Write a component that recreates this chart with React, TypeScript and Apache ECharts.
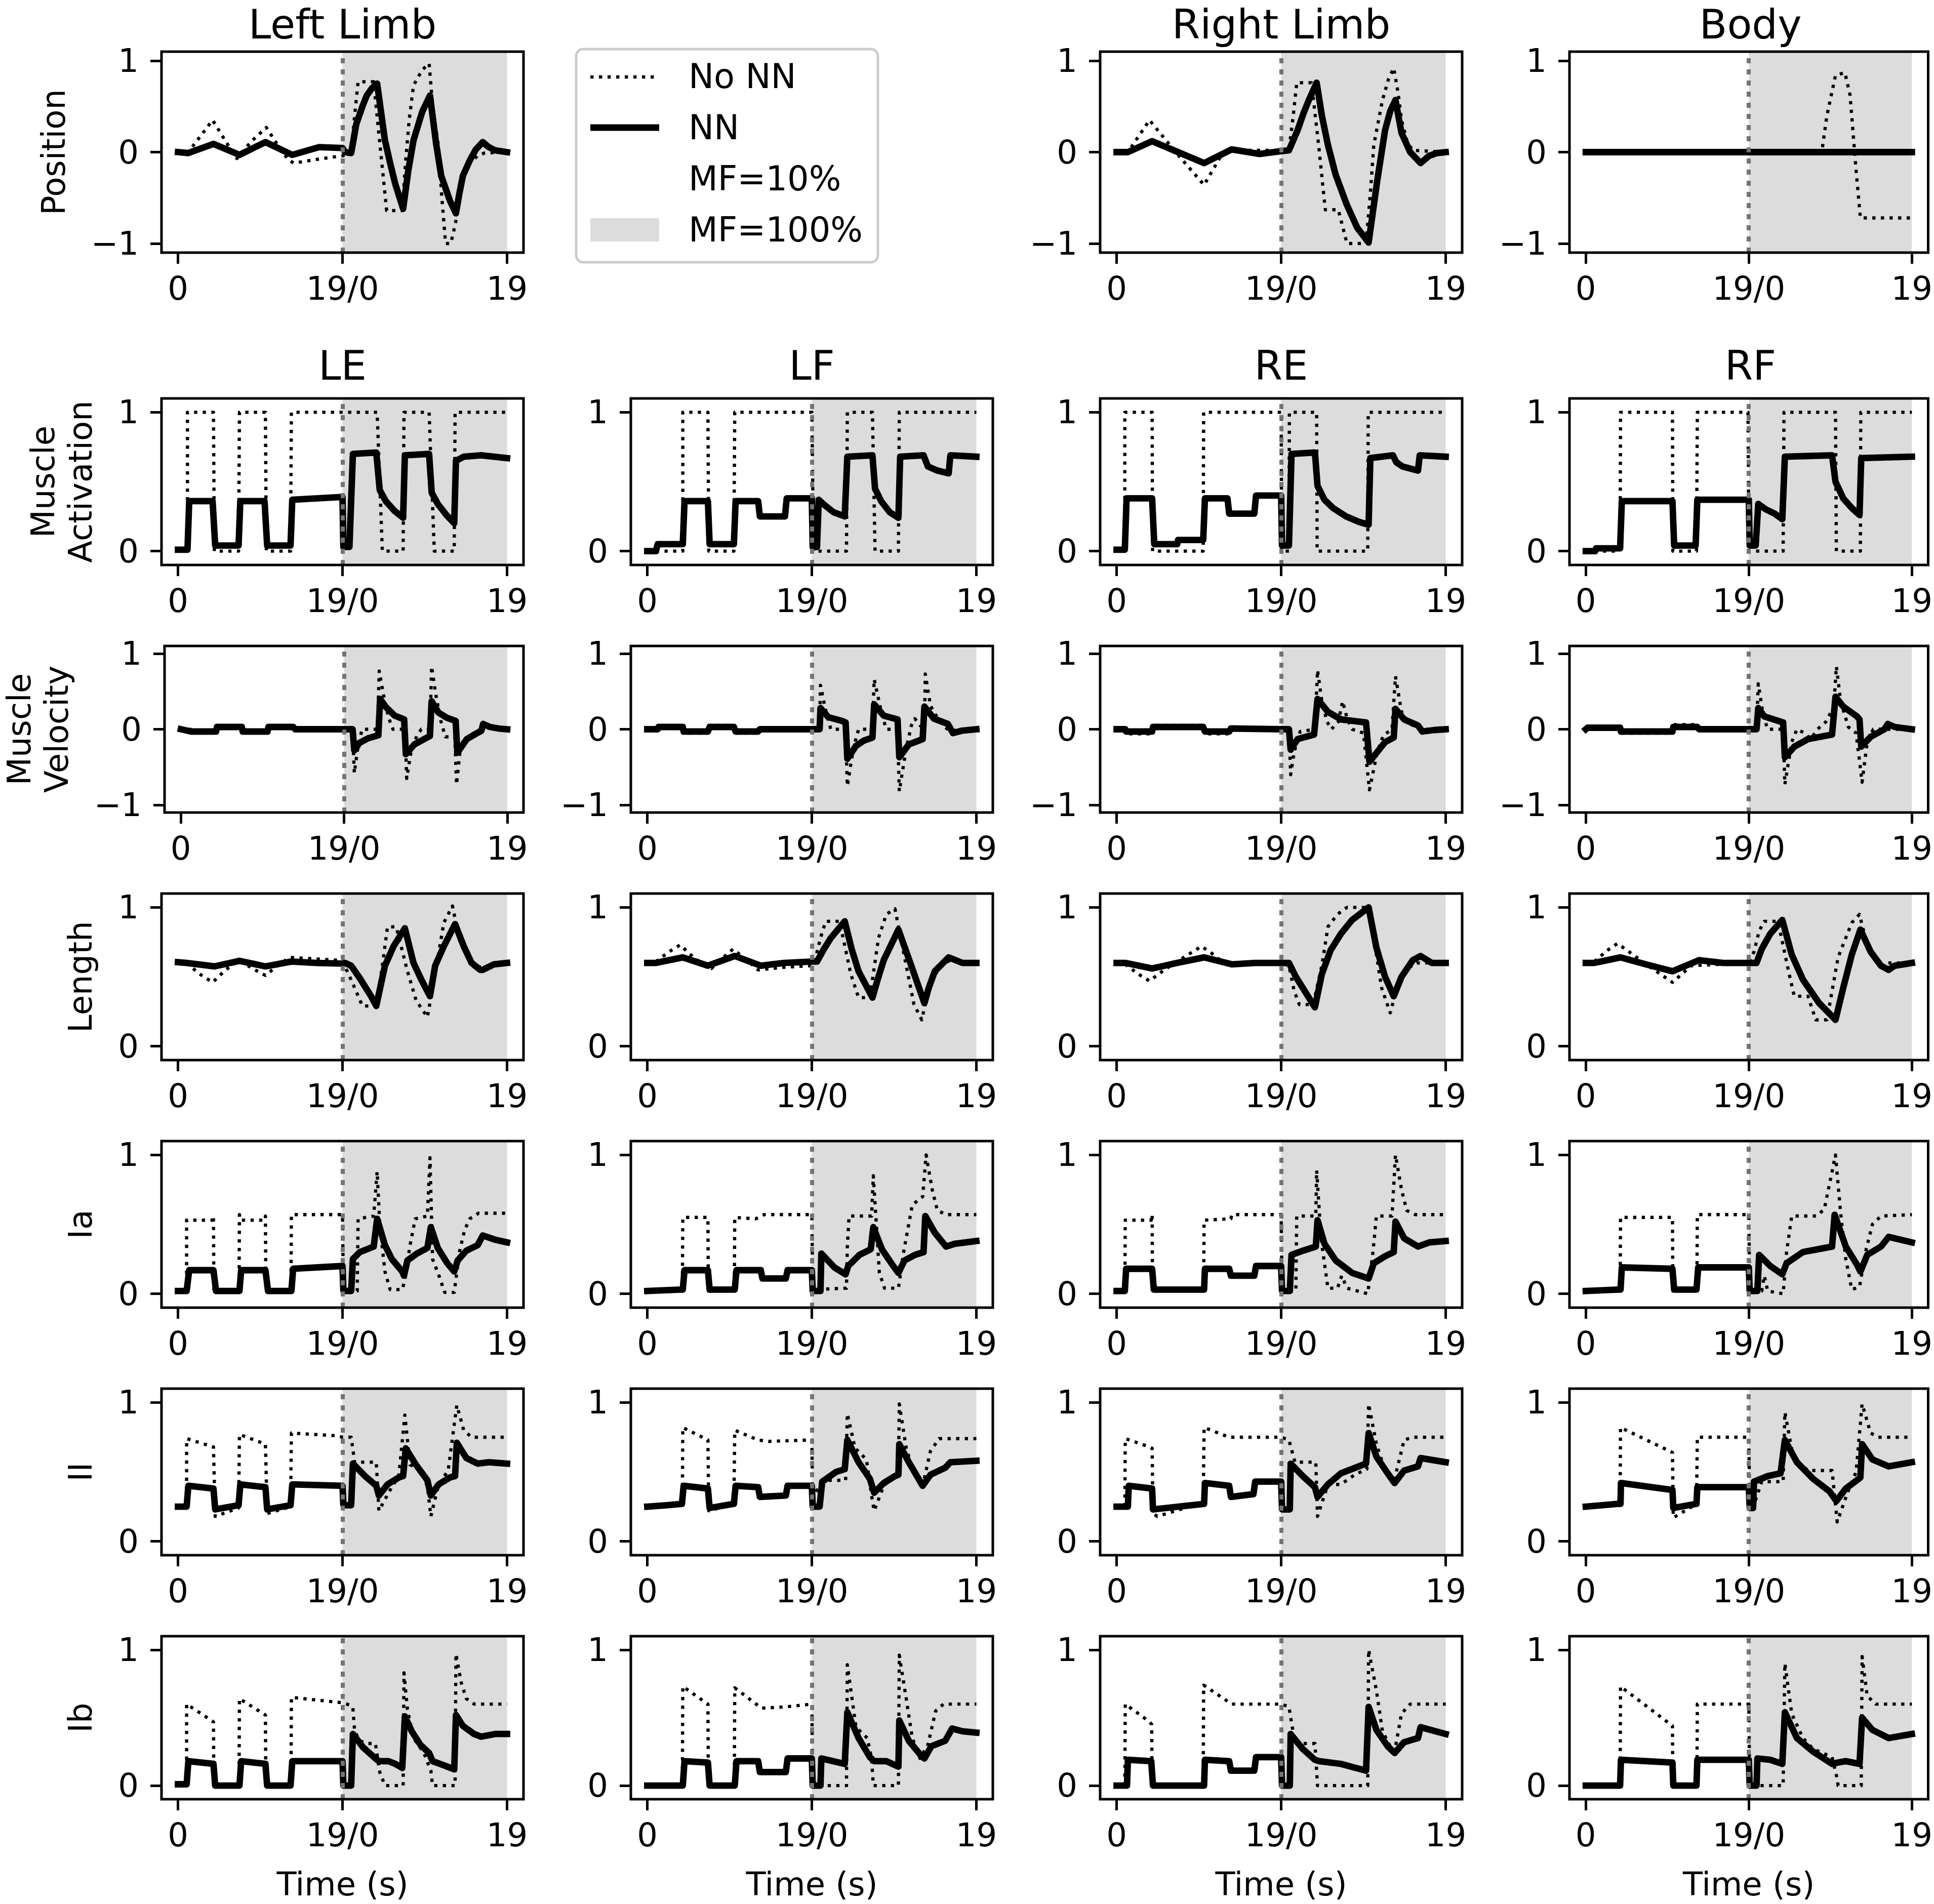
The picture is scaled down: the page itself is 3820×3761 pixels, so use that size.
import React, { useEffect, useRef } from "react";
import * as echarts from "echarts";

// ---------- texts ----------
const xTickValues = [0, 19, 38];
const xTickLabels = ["0", "19/0", "19"];
const rowLabels = ["Position", "Muscle\nActivation", "Muscle\nVelocity", "Length", "Ia", "II", "Ib"];
const topTitles = ["Left Limb", "", "Right Limb", "Body"];
const muscleTitles = ["LE", "LF", "RE", "RF"];
const legendLabels = ["No NN", "NN", "MF=10%", "MF=100%"];
const xAxisTitle = "Time (s)";
const shadeFrom = 19;
const shadeTo = 38;

// ---------- data: [time, value] ----------
// Row 1: Position
const posLeftNoNN = [[0,0],[1.2,0],[1.6,0.05],[4.0,0.35],[5.5,0.12],[6.8,-0.07],[8.5,0.12],[10.2,0.27],[11.5,0.08],[12.8,-0.09],[13.4,-0.12],[16,-0.08],[19,-0.04],[20,-0.01],[20.4,0.4],[20.8,0.77],[22.6,0.77],[23.2,0.2],[24.1,-0.64],[25.5,-0.64],[25.9,-0.64],[26.3,-0.09],[26.7,0.35],[27.2,0.73],[28.2,0.9],[29.0,0.97],[29.5,0.4],[30.0,0.13],[30.5,-0.53],[30.9,-1.0],[31.5,-1.0],[32.0,-0.8],[32.3,-0.64],[32.9,-0.3],[33.7,-0.12],[34.6,-0.04],[35.4,-0.01],[38,0]];
const posLeftNN = [[0,0],[1.2,-0.01],[4.1,0.09],[7.1,-0.03],[10.1,0.11],[13.2,-0.03],[16.3,0.055],[19,0.045],[19.3,0.0],[20,-0.01],[20.6,0.31],[21.3,0.5],[21.8,0.62],[22.4,0.7],[23.0,0.75],[23.9,0.13],[24.5,-0.12],[25.1,-0.35],[25.6,-0.5],[26.0,-0.62],[26.6,-0.2],[27.2,0.13],[28.2,0.44],[29.1,0.62],[29.8,0.1],[30.4,-0.26],[31.4,-0.53],[32.1,-0.67],[32.5,-0.45],[32.9,-0.26],[33.7,-0.09],[34.4,0.03],[35.2,0.11],[35.8,0.06],[36.6,0.02],[38,0]];
const posRightNoNN = [[0,0],[1.3,0],[3.8,0.35],[7,-0.02],[10.1,-0.36],[12.3,0],[13.3,0.02],[19,0.02],[19.9,0.02],[20.4,0.4],[20.8,0.76],[22.5,0.76],[23.3,0.1],[24.1,-0.63],[25.6,-0.63],[26.6,-1.0],[28.8,-1.0],[29.3,-0.45],[29.7,0.08],[30.7,0.57],[31.4,0.8],[32.0,0.92],[32.5,0.65],[32.9,0.35],[33.6,0.1],[34.2,0.02],[38,0]];
const posRightNN = [[0,0],[1.3,0],[4.1,0.12],[7.1,0.0],[10.1,-0.12],[13.3,0.03],[16.5,-0.02],[19,0.01],[19.9,0.02],[20.9,0.24],[21.6,0.43],[22.2,0.57],[23.1,0.76],[23.7,0.40],[24.4,0.08],[25.3,-0.25],[26.6,-0.58],[27.8,-0.83],[29.1,-0.99],[29.6,-0.65],[30.1,-0.31],[31.0,0.24],[31.6,0.45],[32.2,0.57],[32.9,0.21],[33.9,0.0],[35.1,-0.12],[36.1,-0.04],[37,-0.01],[38,0]];
const posBodyNoNN = [[0,0],[27.5,0],[28.1,0.4],[29.1,0.84],[30.2,0.87],[30.8,0.62],[31.5,-0.2],[32.0,-0.72],[38,-0.72]];
const posBodyNN = [[0,0],[38,0]];

// Row 2: Muscle activation
const actLENoNN = [[0,0],[1.1,0],[1.1,1],[4.1,1],[4.2,0],[7.0,0],[7.1,1],[10.1,1],[10.2,0],[13.0,0],[13.1,1],[23.0,1],[23.3,0.5],[23.6,0],[26.0,0],[26.1,1],[29.0,1],[29.3,0.5],[29.6,0],[31.9,0],[32.0,1],[38,1]];
const actLENN = [[0,0.01],[1.1,0.01],[1.3,0.36],[4.0,0.36],[4.3,0.04],[7.0,0.04],[7.2,0.36],[10.0,0.36],[10.3,0.04],[13.0,0.04],[13.2,0.37],[19.0,0.39],[19.1,0.03],[19.8,0.03],[20.2,0.70],[22.9,0.71],[23.3,0.44],[24.0,0.36],[25.0,0.29],[26.0,0.24],[26.2,0.69],[29.0,0.70],[29.3,0.42],[30.0,0.34],[31.0,0.26],[31.9,0.2],[32.1,0.65],[33,0.68],[35,0.69],[38,0.67]];
const actLFNoNN = [[0,0],[4.1,0],[4.1,1],[7.0,1],[7.1,0],[10.0,0],[10.1,1],[19.0,1],[19.2,0],[23.0,0],[23.1,1],[26.0,1],[26.3,0],[29.0,0],[29.1,1],[38,1]];
const actLFNN = [[0,0.0],[1.0,0.0],[1.2,0.05],[4.1,0.05],[4.3,0.36],[7.0,0.36],[7.2,0.05],[10.0,0.05],[10.2,0.36],[12.8,0.36],[13.0,0.25],[15.9,0.25],[16.1,0.38],[19.0,0.38],[19.1,0.03],[19.6,0.03],[19.8,0.37],[20.5,0.33],[21.5,0.28],[22.8,0.25],[23.1,0.68],[26.0,0.69],[26.3,0.45],[27.0,0.36],[28.0,0.28],[29.0,0.24],[29.2,0.68],[31.9,0.69],[32.4,0.61],[33.5,0.58],[34.8,0.56],[35.0,0.69],[38,0.68]];
const actRENoNN = [[0,0],[0.95,0],[0.95,1],[4.1,1],[4.15,0],[10.0,0],[10.05,1],[19,1],[19.05,0],[19.9,0],[19.95,1],[23.1,1],[23.15,0],[29.0,0],[29.05,1],[38,1]];
const actRENN = [[0,0.01],[0.95,0.01],[1.15,0.38],[4.1,0.38],[4.35,0.05],[7.0,0.05],[7.1,0.08],[10.0,0.08],[10.2,0.38],[12.8,0.38],[13.0,0.27],[15.9,0.27],[16.1,0.4],[19.0,0.4],[19.1,0.04],[19.9,0.04],[20.2,0.7],[22.9,0.71],[23.2,0.47],[24.0,0.37],[25.0,0.31],[26.5,0.25],[28.0,0.21],[29.1,0.19],[29.3,0.67],[31.9,0.69],[32.3,0.64],[33.0,0.61],[34.8,0.58],[35.0,0.69],[38,0.68]];
const actRFNoNN = [[0,0],[4.0,0],[4.05,1],[10.1,1],[10.15,0],[12.9,0],[13.0,1],[18.9,1],[19.0,0],[23.0,0],[23.1,1],[29.1,1],[29.2,0],[32.0,0],[32.05,1],[38,1]];
const actRFNN = [[0,0.0],[1.1,0.0],[1.2,0.02],[4.0,0.02],[4.2,0.36],[10.1,0.36],[10.3,0.04],[12.8,0.04],[13.0,0.37],[19.0,0.37],[19.1,0.04],[19.8,0.04],[20.1,0.34],[21,0.30],[22,0.27],[22.9,0.23],[23.2,0.68],[28.7,0.69],[29.1,0.5],[30,0.38],[31,0.31],[31.9,0.26],[32.1,0.67],[38,0.68]];

// Row 3: Muscle velocity
const velLENoNN = [[0,0],[1.1,0],[1.2,-0.05],[4.0,-0.04],[4.2,0.05],[7.0,0.04],[7.2,-0.05],[10.0,-0.04],[10.2,0.05],[13.0,0.04],[13.2,0.0],[19,0],[20.0,0],[20.2,-0.58],[20.6,-0.25],[21.1,0],[22.9,0],[23.1,0.77],[23.6,0.45],[24.2,0.15],[24.7,0],[26.1,0],[26.3,-0.65],[26.8,-0.3],[27.5,-0.08],[28.0,0],[29.0,0],[29.2,0.83],[29.7,0.45],[30.3,0.1],[30.8,-0.1],[31.9,-0.1],[32.1,-0.73],[32.5,-0.3],[33.2,-0.12],[34.5,-0.02],[35.2,0.02],[38,0]];
const velLENN = [[0,0],[1.2,-0.03],[4.1,-0.03],[4.2,0.03],[7.1,0.03],[7.2,-0.03],[10.1,-0.03],[10.2,0.03],[13.1,0.03],[13.3,0],[19,0],[20,0],[20.2,-0.28],[20.8,-0.18],[21.8,-0.12],[23.0,-0.08],[23.2,0.40],[23.9,0.29],[24.9,0.18],[26.0,0.13],[26.2,-0.33],[27.2,-0.2],[29.0,-0.09],[29.2,0.37],[30.0,0.22],[31.0,0.15],[32.0,0.11],[32.2,-0.31],[33.3,-0.13],[34.5,-0.05],[35.0,-0.02],[35.2,0.07],[36,0.03],[37,0.01],[38,0]];
const velLFNoNN = [[0,0],[1.2,0],[1.2,0.04],[4.1,0.04],[4.1,-0.05],[7.0,-0.05],[7.1,0.05],[10.0,0.05],[10.1,-0.05],[13.0,-0.05],[13.1,0],[19,0],[19.9,0],[20.0,0.58],[20.5,0.3],[20.9,0.12],[21.2,0],[22.9,0],[23.1,-0.75],[23.8,-0.25],[24.4,0],[26.0,0],[26.2,0.66],[27.0,0.24],[27.6,0],[28.9,0],[29.1,-0.82],[29.9,-0.25],[30.5,0.05],[30.9,0.14],[31.5,0.05],[32.0,0.0],[32.1,0.73],[32.7,0.31],[33.6,0.13],[34.9,-0.03],[36,0],[38,0]];
const velLFNN = [[0,0],[1.2,0],[1.3,0.03],[4.1,0.03],[4.2,-0.03],[7.0,-0.03],[7.2,0.03],[10.0,0.03],[10.2,-0.03],[12.8,-0.03],[13.0,0.0],[19,0],[19.9,0],[20.0,0.28],[20.9,0.16],[22.5,0.11],[22.9,0.09],[23.1,-0.39],[24.1,-0.22],[25.0,-0.15],[26.0,-0.11],[26.2,0.33],[27.3,0.18],[28.9,0.13],[29.1,-0.37],[30.2,-0.2],[31.8,-0.13],[32.0,0.30],[33.1,0.14],[34.7,0.07],[35.3,-0.05],[36.3,-0.02],[38,0]];
const velRENoNN = [[0,0],[1.0,0],[1.0,-0.06],[4.1,-0.06],[4.1,0.05],[10.0,0.05],[10.1,-0.06],[13.0,-0.06],[13.1,0],[19,0],[19.9,0],[20.1,-0.6],[20.5,-0.3],[21.2,-0.03],[22.9,0],[23.2,0.78],[23.7,0.37],[24.3,0.1],[24.8,0],[25.6,0.1],[26.1,0.37],[26.6,0.15],[27.2,0],[28.5,-0.05],[29.2,-0.8],[30.1,-0.3],[30.8,-0.08],[31.8,0],[32.2,0.7],[32.9,0.23],[33.9,0.07],[35,0],[38,0]];
const velRENN = [[0,0],[1.0,0],[1.1,-0.03],[4.1,-0.03],[4.2,0.03],[10.0,0.03],[10.2,-0.03],[13.0,-0.03],[13.2,0.01],[19,0],[19.9,0],[20.1,-0.27],[20.9,-0.13],[22.8,-0.07],[23.2,0.40],[24.4,0.23],[25.9,0.13],[28.8,0.09],[29.2,-0.43],[30.1,-0.3],[31.0,-0.17],[32.0,-0.11],[32.2,0.27],[33.2,0.13],[34.8,0.05],[35.3,-0.03],[36.7,-0.01],[38,0]];
const velRFNoNN = [[0,0],[0.2,0.04],[4.0,0.04],[4.1,-0.05],[10.1,-0.05],[10.2,0.06],[13.0,0.06],[13.1,0],[19,0],[19.9,0],[20.1,0.6],[20.7,0.17],[21.2,0],[23.0,0],[23.2,-0.73],[24.0,-0.17],[24.6,0],[25.5,-0.05],[26.2,-0.13],[27,0],[28.0,0.1],[28.9,0.3],[29.2,0.83],[29.7,0.37],[30.6,0.03],[31.5,-0.05],[32.2,-0.7],[32.8,-0.17],[33.5,0],[38,0]];
const velRFNN = [[0,0],[0.2,0.02],[4.0,0.02],[4.1,-0.03],[10.1,-0.03],[10.2,0.03],[13.0,0.03],[13.2,0],[19,0],[19.9,0],[20.1,0.28],[20.8,0.17],[23.0,0.09],[23.2,-0.37],[24.3,-0.23],[25.9,-0.13],[28.7,-0.07],[29.1,0.43],[30.0,0.3],[31.6,0.17],[31.9,0.13],[32.1,-0.23],[33.2,-0.1],[34.8,0.0],[35.2,0.07],[36,0.03],[38,0]];

// Row 4: Length
const lenLENoNN = [[0,0.6],[1.0,0.6],[2.5,0.52],[4.0,0.46],[5.5,0.55],[7.1,0.62],[8.6,0.56],[10.1,0.51],[11.5,0.58],[12.9,0.64],[18.4,0.62],[19,0.61],[19.7,0.52],[20.4,0.42],[21.3,0.29],[22.9,0.29],[23.6,0.58],[24.2,0.86],[25.2,0.86],[26.5,0.54],[27.5,0.33],[28.8,0.21],[29.7,0.52],[30.7,0.89],[31.7,1.01],[32.6,0.74],[33.9,0.6],[34.9,0.57],[38,0.6]];
const lenLENN = [[0,0.605],[1.0,0.6],[4.2,0.575],[7.1,0.615],[10.1,0.575],[13.1,0.61],[16,0.6],[19,0.595],[19.3,0.6],[20,0.58],[21,0.49],[22.3,0.36],[22.9,0.29],[23.9,0.58],[24.9,0.72],[26.2,0.85],[27.2,0.6],[28.1,0.48],[29.1,0.36],[29.7,0.58],[30.7,0.72],[32.0,0.88],[33,0.72],[33.9,0.6],[34.9,0.55],[35.2,0.55],[36.5,0.59],[38,0.6]];
const lenLFNoNN = [[0,0.6],[1,0.61],[2.5,0.68],[3.8,0.73],[5.5,0.63],[7.4,0.56],[8.8,0.64],[9.9,0.7],[11.5,0.62],[12.8,0.55],[16,0.57],[19,0.58],[19.5,0.65],[20.0,0.78],[20.6,0.9],[22.2,0.9],[23.5,0.52],[24.4,0.35],[25.7,0.35],[26.7,0.78],[27.6,0.95],[28.6,0.99],[29.9,0.58],[30.8,0.3],[31.7,0.19],[32.5,0.42],[33.8,0.58],[35,0.62],[38,0.6]];
const lenLFNN = [[0,0.6],[1,0.6],[4.1,0.64],[7.0,0.58],[10.1,0.65],[13.1,0.58],[15.8,0.6],[19,0.61],[19.6,0.61],[20.4,0.7],[21.2,0.78],[22.8,0.9],[23.6,0.7],[24.4,0.54],[26.0,0.35],[26.6,0.48],[27.3,0.62],[29.0,0.84],[29.8,0.7],[30.6,0.56],[32.0,0.31],[32.5,0.42],[33.2,0.54],[34.8,0.64],[36.4,0.6],[38,0.6]];
const lenRENoNN = [[0,0.6],[1,0.59],[2.5,0.52],[3.8,0.47],[5.5,0.55],[7.5,0.63],[9.8,0.72],[11.2,0.66],[12.3,0.6],[19,0.6],[19.9,0.58],[20.5,0.4],[21.1,0.3],[22.7,0.3],[23.7,0.58],[24.4,0.86],[25.5,0.95],[26.6,1.0],[28.9,1.0],[29.7,0.78],[30.6,0.42],[31.6,0.24],[32.2,0.38],[33.5,0.56],[34.8,0.6],[38,0.6]];
const lenRENN = [[0,0.6],[1,0.6],[4.1,0.56],[7,0.6],[10.1,0.64],[13.3,0.59],[16,0.6],[19,0.6],[19.9,0.6],[20.7,0.5],[21.5,0.42],[22.9,0.28],[23.7,0.52],[24.7,0.69],[25.9,0.81],[27.2,0.91],[29.1,1.0],[30.0,0.71],[31.0,0.5],[32.0,0.36],[32.9,0.5],[34.2,0.62],[35.1,0.65],[36.4,0.6],[38,0.6]];
const lenRFNoNN = [[0,0.6],[1,0.61],[2.5,0.69],[3.7,0.74],[5.5,0.66],[7.5,0.57],[10.1,0.46],[11.2,0.52],[12.3,0.58],[19,0.6],[19.6,0.68],[20.2,0.83],[20.8,0.9],[22.4,0.9],[23.7,0.52],[24.3,0.36],[25.9,0.36],[26.8,0.19],[28.1,0.19],[29.4,0.64],[31.0,0.89],[31.9,0.95],[32.9,0.7],[34.1,0.58],[35,0.6],[38,0.6]];
const lenRFNN = [[0,0.6],[1,0.6],[4.05,0.64],[7,0.59],[10.1,0.54],[13.2,0.62],[16,0.6],[19,0.6],[19.9,0.6],[20.5,0.7],[21.5,0.81],[22.9,0.91],[24.0,0.66],[25.3,0.48],[27.2,0.31],[29.1,0.19],[30,0.42],[31.0,0.66],[32.0,0.84],[33.2,0.68],[34.4,0.58],[35.3,0.55],[36,0.58],[38,0.6]];

// Row 5: Ia
const iaLENoNN = [[0,0.02],[1.0,0.02],[1.0,0.53],[4.0,0.53],[4.1,0.56],[4.15,0.02],[7.05,0.02],[7.1,0.57],[7.3,0.53],[10.0,0.53],[10.1,0.56],[10.15,0.02],[13.05,0.02],[13.1,0.57],[19,0.57],[19.1,0.02],[20.7,0.02],[20.8,0.54],[22.6,0.56],[23.0,0.88],[23.3,0.5],[23.9,0.16],[24.5,0.03],[25.9,0.03],[26.2,0.1],[26.8,0.35],[27.4,0.54],[28.8,0.56],[29.1,0.98],[29.4,0.25],[30.2,0.12],[30.8,0.01],[31.9,0.01],[32.5,0.3],[33.1,0.46],[33.7,0.54],[34.7,0.58],[38,0.58]];
const iaLENN = [[0,0.02],[1.0,0.02],[1.3,0.17],[4.1,0.17],[4.4,0.02],[7.1,0.02],[7.3,0.17],[10.1,0.17],[10.4,0.02],[13.1,0.02],[13.3,0.18],[19,0.2],[19.1,0.02],[20,0.02],[20.2,0.25],[21,0.3],[22.6,0.34],[23.0,0.54],[23.9,0.35],[24.7,0.25],[25.9,0.16],[26.1,0.13],[26.5,0.24],[27.6,0.29],[28.8,0.33],[29.2,0.48],[30.0,0.33],[31.1,0.22],[31.9,0.16],[32.3,0.24],[33.3,0.31],[34.6,0.35],[35.2,0.42],[36.6,0.39],[38,0.37]];
const iaLFNoNN = [[0,0.02],[4.05,0.02],[4.1,0.55],[7.0,0.55],[7.05,0.02],[10.05,0.02],[10.1,0.55],[12.5,0.54],[13.5,0.57],[19,0.57],[19.1,0.03],[23.0,0.04],[23.1,0.34],[23.3,0.56],[25.9,0.56],[26.1,0.85],[26.8,0.15],[27.4,0.04],[29.0,0.04],[29.6,0.3],[30.6,0.64],[31.8,0.7],[32.2,1.0],[32.9,0.75],[33.5,0.6],[34.5,0.57],[38,0.57]];
const iaLFNN = [[0,0.02],[3.8,0.03],[4.1,0.03],[4.3,0.17],[7.0,0.17],[7.2,0.03],[10.1,0.03],[10.3,0.17],[13.1,0.17],[13.3,0.11],[16.0,0.11],[16.2,0.17],[19,0.17],[19.1,0.02],[20.0,0.02],[20.1,0.29],[21.6,0.19],[22.9,0.14],[23.2,0.2],[24.5,0.28],[25.8,0.32],[26.1,0.48],[27.1,0.32],[28.4,0.2],[29.0,0.15],[29.7,0.24],[30.9,0.28],[31.9,0.3],[32.1,0.56],[33.2,0.44],[34.5,0.34],[35.5,0.36],[38,0.38]];
const iaRENoNN = [[0,0.02],[0.95,0.02],[1.0,0.53],[4.0,0.53],[4.1,0.57],[4.15,0.02],[10.05,0.02],[10.1,0.53],[13.2,0.54],[13.3,0.57],[19,0.57],[19.1,0.02],[20.7,0.02],[20.8,0.56],[23.0,0.56],[23.1,0.89],[23.6,0.4],[24.4,0.04],[25.5,0.04],[26.0,0.13],[26.6,0.04],[29.0,0.0],[29.6,0.3],[30.0,0.56],[31.8,0.56],[32.2,1.0],[32.9,0.75],[33.5,0.6],[34.5,0.57],[38,0.57]];
const iaRENN = [[0,0.02],[0.95,0.02],[1.1,0.18],[4.1,0.18],[4.3,0.03],[10.1,0.03],[10.2,0.18],[13.0,0.18],[13.2,0.13],[15.9,0.13],[16.1,0.2],[19,0.2],[19.1,0.02],[20.0,0.02],[20.2,0.28],[21.5,0.31],[23.0,0.34],[23.2,0.53],[24.0,0.36],[25.3,0.24],[27.2,0.15],[29.1,0.11],[29.7,0.22],[31,0.27],[32.0,0.3],[32.2,0.52],[33.2,0.4],[34.8,0.34],[36.1,0.37],[38,0.38]];
const iaRFNoNN = [[0,0.02],[4.0,0.02],[4.05,0.55],[10.1,0.55],[10.15,0.02],[12.95,0.02],[13.0,0.57],[19,0.57],[19.1,0.02],[20.5,0.02],[20.8,0.13],[21.2,0.02],[23.0,0.0],[23.4,0.3],[24.0,0.56],[26.9,0.56],[27.8,0.61],[29.1,1.0],[29.7,0.58],[30.3,0.25],[31.0,0.03],[31.9,0.05],[32.6,0.3],[33.4,0.5],[34.4,0.56],[38,0.57]];
const iaRFNN = [[0,0.02],[3.7,0.03],[4.05,0.03],[4.2,0.19],[10.1,0.18],[10.3,0.03],[12.9,0.03],[13.1,0.19],[19,0.19],[19.1,0.02],[20.0,0.02],[20.2,0.28],[21.5,0.2],[22.9,0.14],[23.4,0.22],[25.3,0.3],[28.7,0.34],[29.0,0.57],[30.3,0.34],[31.6,0.21],[32.0,0.16],[32.8,0.28],[34.4,0.34],[35.3,0.41],[38,0.37]];

// Row 6: II
const iiLENoNN = [[0,0.25],[1.0,0.25],[1.0,0.74],[4.1,0.68],[4.3,0.18],[7.0,0.24],[7.1,0.77],[10.1,0.7],[10.3,0.2],[13.0,0.25],[13.1,0.78],[18.4,0.76],[19,0.75],[20.0,0.75],[20.4,0.57],[22.9,0.57],[23.2,0.22],[24.5,0.37],[25.5,0.47],[26.2,0.91],[26.8,0.55],[27.8,0.53],[28.8,0.4],[29.2,0.18],[30.1,0.41],[31.2,0.51],[32.2,0.98],[33.0,0.8],[33.9,0.75],[38,0.75]];
const iiLENN = [[0,0.25],[1.0,0.25],[1.2,0.4],[4.1,0.38],[4.3,0.23],[7.0,0.26],[7.2,0.41],[10.1,0.39],[10.3,0.23],[13.0,0.26],[13.2,0.41],[19,0.4],[19.1,0.26],[20.0,0.26],[20.2,0.56],[21.6,0.47],[22.9,0.40],[23.2,0.33],[24.2,0.41],[25.5,0.46],[26.0,0.47],[26.3,0.67],[27.5,0.55],[28.8,0.44],[29.2,0.33],[30.1,0.41],[31.4,0.46],[32.0,0.47],[32.2,0.71],[33.3,0.6],[34.6,0.56],[35.9,0.57],[38,0.56]];
const iiLFNoNN = [[0,0.25],[3.0,0.27],[4.05,0.28],[4.1,0.82],[7.0,0.73],[7.1,0.22],[10.0,0.27],[10.1,0.8],[12.8,0.73],[14,0.72],[19,0.73],[19.1,0.3],[19.6,0.37],[20.9,0.44],[22.9,0.44],[23.1,0.92],[24.0,0.67],[25.3,0.59],[25.9,0.33],[26.2,0.22],[27.3,0.4],[28.6,0.47],[29.0,0.5],[29.1,0.99],[29.9,0.67],[30.8,0.49],[31.8,0.4],[32.7,0.65],[33.7,0.74],[38,0.74]];
const iiLFNN = [[0,0.25],[2.2,0.26],[4.0,0.27],[4.2,0.4],[7.0,0.38],[7.2,0.24],[10.0,0.27],[10.2,0.4],[12.8,0.39],[13.0,0.32],[16.0,0.33],[16.2,0.4],[19,0.4],[19.1,0.25],[19.9,0.25],[20.2,0.43],[21.8,0.5],[22.8,0.52],[23.1,0.73],[24.4,0.57],[25.7,0.45],[26.2,0.35],[27.3,0.42],[28.6,0.47],[29.0,0.48],[29.1,0.7],[30.2,0.57],[31.8,0.4],[32.7,0.48],[34.4,0.53],[35.0,0.57],[38,0.58]];
const iiRENoNN = [[0,0.25],[0.95,0.25],[1.0,0.74],[3.8,0.68],[4.1,0.67],[4.2,0.2],[4.7,0.18],[10.0,0.28],[10.1,0.82],[13.0,0.75],[19,0.75],[19.9,0.73],[20.6,0.57],[23.0,0.57],[23.2,0.18],[24.4,0.41],[25.9,0.41],[27.5,0.48],[28.9,0.52],[29.1,0.99],[30.0,0.7],[31.0,0.51],[32.1,0.45],[33.2,0.73],[34.2,0.75],[38,0.75]];
const iiRENN = [[0,0.25],[1.3,0.25],[1.4,0.4],[4.1,0.38],[4.2,0.23],[10.1,0.27],[10.2,0.42],[13.0,0.4],[13.2,0.32],[15.8,0.34],[16.0,0.43],[19,0.43],[19.1,0.23],[20.0,0.23],[20.1,0.56],[21.5,0.47],[22.9,0.39],[23.2,0.32],[24.4,0.41],[25.9,0.49],[28.8,0.56],[29.1,0.78],[30.0,0.61],[31.3,0.49],[32.1,0.42],[33.2,0.51],[34.8,0.54],[35.1,0.6],[38,0.57]];
const iiRFNoNN = [[0,0.25],[3.7,0.28],[4.0,0.3],[4.05,0.82],[10.1,0.64],[10.2,0.17],[12.9,0.27],[13.0,0.75],[19,0.75],[19.1,0.24],[19.8,0.3],[20.5,0.43],[23.0,0.43],[23.2,0.93],[24.2,0.6],[25.9,0.51],[28.7,0.51],[29.3,0.14],[30.5,0.35],[31.5,0.5],[32.2,0.99],[33.2,0.78],[34.1,0.75],[38,0.75]];
const iiRFNN = [[0,0.25],[3.7,0.27],[4.05,0.27],[4.1,0.42],[10.1,0.37],[10.2,0.24],[12.9,0.27],[13.0,0.39],[19,0.39],[19.1,0.24],[19.5,0.24],[19.6,0.43],[21.2,0.47],[22.7,0.49],[23.2,0.73],[24.6,0.57],[26.5,0.45],[28.4,0.36],[29.2,0.29],[30.3,0.38],[31.6,0.44],[32.0,0.46],[32.2,0.7],[33.4,0.59],[35.3,0.54],[38,0.57]];

// Row 7: Ib
const ibLENoNN = [[0,0.0],[1.0,0.0],[1.0,0.6],[4.1,0.47],[4.15,0.0],[7.05,0.0],[7.1,0.64],[10.1,0.52],[10.15,0.0],[13.05,0.0],[13.1,0.65],[19,0.61],[20.0,0.59],[20.2,0.57],[20.4,0.4],[21.0,0.33],[21.8,0.31],[22.8,0.31],[23.3,0.1],[23.9,0.0],[26.0,0.0],[26.1,0.83],[26.5,0.56],[27.2,0.35],[28.4,0.24],[29.2,0.11],[29.4,0.0],[32.0,0.0],[32.1,0.97],[32.7,0.76],[33.3,0.64],[34.2,0.6],[38,0.6]];
const ibLENN = [[0,0.01],[1.0,0.01],[1.2,0.18],[4.1,0.16],[4.3,0.0],[7.1,0.0],[7.3,0.18],[10.1,0.16],[10.3,0.0],[13.0,0.0],[13.2,0.18],[19,0.18],[19.1,0.0],[20.0,0.0],[20.2,0.38],[21.4,0.28],[22.8,0.2],[23.2,0.18],[24.3,0.18],[25.1,0.16],[25.9,0.13],[26.2,0.51],[27.0,0.4],[28.0,0.3],[29.0,0.24],[29.4,0.18],[30.7,0.15],[31.9,0.12],[32.1,0.52],[32.9,0.44],[34.2,0.38],[35.0,0.36],[36.6,0.38],[38,0.38]];
const ibLFNoNN = [[0,0],[4.05,0],[4.1,0.73],[7.0,0.6],[7.05,0],[10.05,0],[10.1,0.72],[13.2,0.57],[16,0.58],[19,0.6],[19.1,0],[23.0,0],[23.1,0.89],[24.1,0.43],[25.4,0.35],[25.9,0.2],[26.1,0],[29.0,0],[29.1,0.96],[29.9,0.64],[30.6,0.35],[31.5,0.2],[32.4,0.3],[33.3,0.55],[34.2,0.6],[38,0.6]];
const ibLFNN = [[0,0],[4.1,0],[4.3,0.18],[7.0,0.17],[7.2,0],[10.1,0],[10.3,0.18],[12.8,0.18],[13.0,0.1],[16.0,0.1],[16.2,0.2],[19,0.2],[19.1,0],[20.0,0],[20.1,0.2],[22.8,0.16],[23.1,0.54],[24.4,0.35],[25.7,0.21],[26.2,0.18],[27.6,0.18],[29.0,0.14],[29.1,0.48],[30.2,0.33],[31.5,0.23],[32.0,0.2],[32.8,0.29],[34.4,0.33],[35.2,0.42],[36.4,0.4],[38,0.39]];
const ibRENoNN = [[0,0],[0.95,0],[1.0,0.6],[3.8,0.47],[4.05,0.45],[4.1,0],[10.0,0],[10.05,0.74],[13.3,0.6],[19,0.6],[19.9,0.58],[20.6,0.31],[22.9,0.31],[23.2,0],[29.0,0],[29.1,1.0],[30.0,0.7],[30.7,0.4],[31.5,0.3],[32.1,0.25],[32.9,0.53],[33.9,0.6],[38,0.6]];
const ibRENN = [[0,0],[1.2,0],[1.3,0.19],[4.0,0.18],[4.2,0],[10.1,0],[10.2,0.19],[13.0,0.18],[13.2,0.11],[15.9,0.11],[16.1,0.21],[19,0.21],[19.1,0],[20.0,0],[20.1,0.38],[21.5,0.27],[22.9,0.19],[23.4,0.18],[25.9,0.16],[28.8,0.11],[29.1,0.58],[30.0,0.41],[31.3,0.29],[32.1,0.24],[33.2,0.32],[34.8,0.35],[35.1,0.43],[38,0.38]];
const ibRFNoNN = [[0,0],[4.0,0],[4.05,0.73],[10.1,0.44],[10.15,0],[12.95,0],[13.0,0.6],[19,0.6],[19.1,0],[23.0,0],[23.2,0.9],[24.0,0.53],[25.3,0.35],[26.5,0.27],[28.7,0.21],[29.3,0.05],[29.4,0],[32.1,0],[32.2,0.95],[32.8,0.66],[33.8,0.6],[38,0.6]];
const ibRFNN = [[0,0],[4.0,0],[4.1,0.19],[10.1,0.17],[10.2,0],[12.9,0],[13.0,0.19],[19,0.19],[19.1,0],[19.9,0],[20.0,0.2],[21.5,0.19],[22.9,0.16],[23.2,0.54],[24.6,0.35],[26.5,0.25],[28.7,0.16],[29.4,0.17],[30.3,0.18],[31.9,0.16],[32.2,0.5],[33.4,0.41],[35.3,0.35],[38,0.38]];

const panels = [
  { row: 0, col: 0, noNN: posLeftNoNN, nn: posLeftNN },
  { row: 0, col: 2, noNN: posRightNoNN, nn: posRightNN },
  { row: 0, col: 3, noNN: posBodyNoNN, nn: posBodyNN },
  { row: 1, col: 0, noNN: actLENoNN, nn: actLENN },
  { row: 1, col: 1, noNN: actLFNoNN, nn: actLFNN },
  { row: 1, col: 2, noNN: actRENoNN, nn: actRENN },
  { row: 1, col: 3, noNN: actRFNoNN, nn: actRFNN },
  { row: 2, col: 0, noNN: velLENoNN, nn: velLENN },
  { row: 2, col: 1, noNN: velLFNoNN, nn: velLFNN },
  { row: 2, col: 2, noNN: velRENoNN, nn: velRENN },
  { row: 2, col: 3, noNN: velRFNoNN, nn: velRFNN },
  { row: 3, col: 0, noNN: lenLENoNN, nn: lenLENN },
  { row: 3, col: 1, noNN: lenLFNoNN, nn: lenLFNN },
  { row: 3, col: 2, noNN: lenRENoNN, nn: lenRENN },
  { row: 3, col: 3, noNN: lenRFNoNN, nn: lenRFNN },
  { row: 4, col: 0, noNN: iaLENoNN, nn: iaLENN },
  { row: 4, col: 1, noNN: iaLFNoNN, nn: iaLFNN },
  { row: 4, col: 2, noNN: iaRENoNN, nn: iaRENN },
  { row: 4, col: 3, noNN: iaRFNoNN, nn: iaRFNN },
  { row: 5, col: 0, noNN: iiLENoNN, nn: iiLENN },
  { row: 5, col: 1, noNN: iiLFNoNN, nn: iiLFNN },
  { row: 5, col: 2, noNN: iiRENoNN, nn: iiRENN },
  { row: 5, col: 3, noNN: iiRFNoNN, nn: iiRFNN },
  { row: 6, col: 0, noNN: ibLENoNN, nn: ibLENN },
  { row: 6, col: 1, noNN: ibLFNoNN, nn: ibLFNN },
  { row: 6, col: 2, noNN: ibRENoNN, nn: ibRENN },
  { row: 6, col: 3, noNN: ibRFNoNN, nn: ibRFNN },
];

// ---------- layout / style ----------
const W = 3820;
const H = 3761;
const FONT = "DejaVu Sans";
const FS = 64;
const TITLE_FS = 80;
const colLeft = [319, 1246, 2173, 3100];
const panelW = 715;
const rowTop = [102, 787, 1276, 1765, 2254, 2743, 3232];
const rowH = [397, 329, 329, 329, 329, 329, 329];
const signedRow = [true, false, true, false, false, false, false];

const fmtY = (v: number) => (v < 0 ? "\u2212" + Math.abs(v) : String(v));
const fmtX = (v: number) => {
  const i = xTickValues.indexOf(v);
  return i >= 0 ? xTickLabels[i] : "";
};

function buildOption() {
  const grid: any[] = [];
  const xAxis: any[] = [];
  const yAxis: any[] = [];
  const series: any[] = [];

  panels.forEach((p, i) => {
    const signed = signedRow[p.row];
    const yTicks = signed ? [-1, 0, 1] : [0, 1];
    grid.push({
      left: colLeft[p.col], top: rowTop[p.row], width: panelW, height: rowH[p.row],
      show: true, borderColor: "#000", borderWidth: 5, backgroundColor: "rgba(0,0,0,0)", z: 10,
    });
    const isBottom = p.row === 6;
    xAxis.push({
      gridIndex: i, type: "value", min: -1.9, max: 39.9,
      axisLine: { show: false, onZero: false },
      splitLine: { show: false },
      axisTick: { show: true, inside: false, length: 22, lineStyle: { color: "#000", width: 5 }, customValues: xTickValues },
      axisLabel: { show: true, customValues: xTickValues, formatter: fmtX, margin: 39, fontSize: FS, fontFamily: FONT, color: "#000", lineHeight: 64 },
      name: isBottom ? xAxisTitle : "",
      nameLocation: "middle", nameGap: 130,
      nameTextStyle: { fontSize: FS, fontFamily: FONT, color: "#000", lineHeight: 76 },
    });
    yAxis.push({
      gridIndex: i, type: "value", min: signed ? -1.1 : -0.1, max: 1.1,
      axisLine: { show: false, onZero: false },
      splitLine: { show: false },
      axisTick: { show: true, inside: false, length: 22, lineStyle: { color: "#000", width: 5 }, customValues: yTicks },
      axisLabel: { show: true, customValues: yTicks, formatter: fmtY, margin: 45, fontSize: FS, fontFamily: FONT, color: "#000" },
      name: p.col === 0 ? rowLabels[p.row] : "",
      nameLocation: "middle", nameRotate: 90,
      nameGap: signed ? 176 : 123,
      nameTextStyle: { fontSize: FS, fontFamily: FONT, color: "#000", lineHeight: 74, align: "center" },
    });
    series.push({
      type: "line", xAxisIndex: i, yAxisIndex: i, data: p.noNN,
      showSymbol: false, symbol: "none", silent: true, z: 2,
      lineStyle: { color: "#000", width: 6.4, type: [6.4, 10.6], cap: "butt", join: "round" },
      markArea: { silent: true, itemStyle: { color: "#dcdcdc" }, data: [[{ xAxis: shadeFrom }, { xAxis: shadeTo }]] },
      markLine: {
        silent: true, symbol: ["none", "none"], label: { show: false },
        lineStyle: { color: "#747474", width: 8, type: [10, 12] },
        data: [{ xAxis: shadeFrom }],
      },
    });
    series.push({
      type: "line", xAxisIndex: i, yAxisIndex: i, data: p.nn,
      showSymbol: false, symbol: "none", silent: true, z: 3,
      lineStyle: { color: "#000", width: 12.8, type: "solid", cap: "square", join: "round" },
    });
  });

  const graphic: any[] = [];
  const cx = (c: number) => colLeft[c] + panelW / 2;
  topTitles.forEach((t, c) => {
    if (t) graphic.push({ type: "text", x: cx(c), y: 10, style: { text: t, fontSize: TITLE_FS, lineHeight: 76, fontFamily: FONT, fill: "#000", align: "center", verticalAlign: "top" } });
  });
  muscleTitles.forEach((t, c) => {
    graphic.push({ type: "text", x: cx(c), y: 722, style: { text: t, fontSize: TITLE_FS, lineHeight: 76, fontFamily: FONT, fill: "#000", align: "center", verticalAlign: "middle" } });
  });
  // legend
  graphic.push({ type: "rect", shape: { x: 1138, y: 97, width: 596, height: 421, r: 14 }, style: { fill: "#fff", stroke: "#cccccc", lineWidth: 5 }, z: 20 });
  graphic.push({ type: "line", shape: { x1: 1166, y1: 152, x2: 1302, y2: 152 }, style: { stroke: "#000", lineWidth: 6.4, lineDash: [6.4, 10.6], lineCap: "butt" }, z: 21 });
  graphic.push({ type: "line", shape: { x1: 1166, y1: 252, x2: 1302, y2: 252 }, style: { stroke: "#000", lineWidth: 12.8, lineCap: "butt" }, z: 21 });
  graphic.push({ type: "rect", shape: { x: 1166, y: 431, width: 136, height: 46 }, style: { fill: "#dcdcdc" }, z: 21 });
  const legendY = [151, 252, 353, 454];
  legendLabels.forEach((t, k) => {
    graphic.push({ type: "text", x: 1360, y: legendY[k], style: { text: t, fontSize: 67, fontFamily: FONT, fill: "#000", align: "left", verticalAlign: "middle" }, z: 21 });
  });

  return {
    animation: false,
    backgroundColor: "#fff",
    textStyle: { fontFamily: FONT },
    grid, xAxis, yAxis, series, graphic,
  };
}

export default function App() {
  const ref = useRef<HTMLDivElement>(null);
  useEffect(() => {
    const el = ref.current;
    if (!el) return;
    const chart = echarts.init(el, null, { renderer: "svg", width: W, height: H });
    chart.setOption(buildOption() as any);
    return () => chart.dispose();
  }, []);
  return <div ref={ref} style={{ position: "absolute", left: 0, top: 0, width: W, height: H, background: "#fff" }} />;
}
